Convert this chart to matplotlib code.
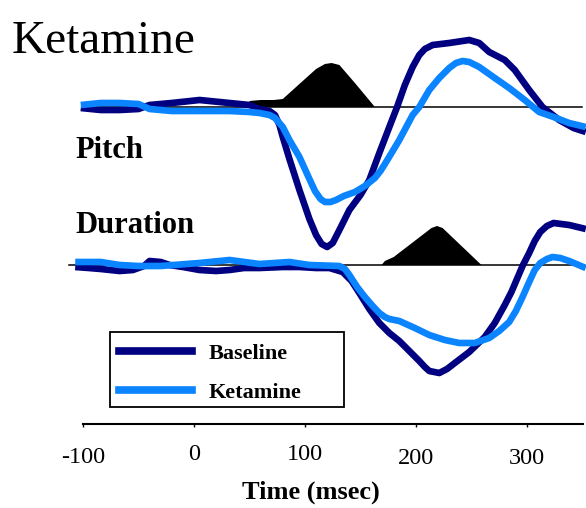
"""
Ketamine mismatch waveforms: pitch and duration deviants, baseline vs ketamine.
Traces are in arbitrary amplitude units (upward positive), time in msec.
"""

import matplotlib
matplotlib.use("Agg")
import matplotlib.pyplot as plt
from matplotlib.lines import Line2D
from matplotlib.patches import Rectangle
from matplotlib.transforms import ScaledTranslation

SERIF = ["Liberation Serif", "DejaVu Serif"]
BASELINE_COLOR = "#000080"
KETAMINE_COLOR = "#0a84ff"

# --- Pitch deviant ---
pitch_base_t = [-102, -84, -67, -50, -40, -20, 5, 32, 50, 59, 68, 73, 77, 80, 86, 95,
                104, 110, 115, 120, 125, 131, 140, 150, 158, 167, 176, 183, 190, 197,
                203, 208, 215, 230, 248, 257, 266, 280, 289, 302, 314, 329, 342, 353]
pitch_base_v = [-1, -3, -3, -2, 2, 4, 7, 4, 2, -2, -4, -8, -18, -30, -52, -83,
                -112, -128, -137, -140, -136, -123, -103, -88, -73, -46, -20, 0, 22, 40,
                52, 58, 62, 64, 67, 64, 55, 47, 37, 17, 0, -13, -21, -25]

pitch_ket_t = [-102, -84, -67, -50, -40, -20, 5, 32, 50, 59, 68, 73, 80, 86, 95, 104,
               109, 114, 118, 123, 128, 135, 145, 154, 163, 168, 172, 178, 185, 197,
               203, 212, 221, 230, 236, 242, 248, 257, 271, 284, 298, 311, 324, 338, 353]
pitch_ket_v = [2, 4, 4, 3, -2, -4, -4, -4, -5, -6, -8, -11, -20, -33, -50, -72,
               -84, -92, -95, -95, -93, -89, -85, -79, -71, -64, -57, -46, -33, -8,
               0, 17, 29, 39, 44, 46, 45, 40, 29, 19, 7, -5, -10, -16, -20]

# stimulus envelope (pitch)
pitch_stim_t = [50, 50, 60, 72, 80, 90, 100, 110, 118, 124, 131, 145, 163]
pitch_stim_v = [0, 6, 7, 7, 8, 18, 28, 38, 43, 44, 42, 24, 0]

# --- Duration deviant ---
dur_base_t = [-107, -95, -84, -67, -55, -45, -40, -30, -22, -10, 5, 20, 32, 45, 59, 80,
              95, 110, 122, 134, 142, 149, 158, 167, 176, 185, 194, 203, 208, 212,
              221, 228, 235, 248, 262, 271, 280, 286, 291, 296, 302, 307, 312, 318,
              324, 338, 353]
dur_base_v = [-2, -3, -4, -6, -5, -1, 4, 3, 0, -2, -5, -6, -5, -3, -3, -2,
              -2, -3, -3, -7, -16, -28, -44, -58, -68, -76, -86, -96, -102, -106,
              -108, -104, -98, -87, -72, -58, -40, -27, -14, -1, 12, 24, 33, 39,
              42, 40, 36]

dur_ket_t = [-107, -84, -67, -50, -30, 5, 32, 59, 86, 104, 131, 136, 140, 147, 154,
             161, 167, 172, 176, 185, 199, 212, 226, 239, 253, 266, 275, 284, 290,
             296, 302, 307, 312, 318, 323, 330, 338, 353]
dur_ket_v = [3, 3, 0, -1, -1, 2, 5, 1, 3, 0, -1, -4, -10, -22, -32,
             -41, -48, -52, -54, -56, -63, -70, -75, -78, -78, -73, -66, -57, -46,
             -32, -17, -5, 2, 6, 8, 7, 4, -3]

# stimulus envelope (duration)
dur_stim_t = [169, 172, 180, 214, 219, 224, 259]
dur_stim_v = [0, 4, 8, 37, 39, 37, 0]

xticks = [-100, 0, 100, 200, 300]
tick_labels = ["-100", "0", "100", "200", "300"]
legend_labels = ["Baseline", "Ketamine"]


def main():
    fig = plt.figure(figsize=(5.86, 5.08), dpi=100)
    # axes spans from the -100 tick to the end of the time axis; y in pixel-like units
    ax = fig.add_axes([83 / 586, 84 / 508, 500 / 586, 424 / 508])
    ax.set_xlim(-100, 350.5)
    ax.set_ylim(0, 424)

    pitch_off = 317
    dur_off = 159

    # zero lines
    ax.plot([-100, 350], [pitch_off, pitch_off], color="black", lw=1.1, clip_on=False, zorder=2)
    ax.plot([-113, 350], [dur_off, dur_off], color="black", lw=1.1, clip_on=False, zorder=2)

    # stimulus envelopes
    ax.fill(pitch_stim_t, [pitch_off + v for v in pitch_stim_v], color="black", lw=0, zorder=1)
    ax.fill(dur_stim_t, [dur_off + v for v in dur_stim_v], color="black", lw=0, zorder=1)

    for t, v, off, c in [
        (pitch_base_t, pitch_base_v, pitch_off, BASELINE_COLOR),
        (pitch_ket_t, pitch_ket_v, pitch_off, KETAMINE_COLOR),
        (dur_base_t, dur_base_v, dur_off, BASELINE_COLOR),
        (dur_ket_t, dur_ket_v, dur_off, KETAMINE_COLOR),
    ]:
        ax.plot(t, [off + y for y in v], color=c, lw=4.8, clip_on=False,
                solid_joinstyle="round", solid_capstyle="butt", zorder=3)

    # axis styling
    for s in ["top", "right", "left"]:
        ax.spines[s].set_visible(False)
    ax.spines["bottom"].set_linewidth(1.5)
    ax.set_yticks([])
    ax.set_xticks(xticks)
    ax.set_xticklabels(tick_labels, family=SERIF, fontsize=17.5)
    ax.tick_params(axis="x", direction="out", length=2.5, width=1, pad=13)
    nudges = [1, -2, -2, 2, 2]  # labels in the original sit at slightly uneven heights
    for lab, dy in zip(ax.get_xticklabels(), nudges):
        lab.set_transform(lab.get_transform() + ScaledTranslation(0, -dy / 100, fig.dpi_scale_trans))

    fig.text(311 / 586, 1 - 492 / 508, "Time (msec)", family=SERIF, fontsize=19,
             fontweight="bold", ha="center", va="center")

    # labels
    fig.text(12 / 586, 1 - 53 / 508, "Ketamine", family=SERIF, fontsize=34, va="baseline")
    fig.text(75 / 586, 1 - 158 / 508, "Pitch", family=SERIF, fontsize=22,
             fontweight="bold", va="baseline")
    fig.text(75 / 586, 1 - 233 / 508, "Duration", family=SERIF, fontsize=22,
             fontweight="bold", va="baseline")

    # legend: entries via fig.legend, box drawn separately (original box is wider)
    handles = [Line2D([], [], color=BASELINE_COLOR, lw=5.5),
               Line2D([], [], color=KETAMINE_COLOR, lw=5.5)]
    fig.legend(handles, legend_labels, loc="upper left",
               bbox_to_anchor=(112 / 586, 1 - 337 / 508), borderaxespad=0,
               prop={"family": SERIF, "weight": "bold", "size": 16},
               handlelength=3.3, handletextpad=0.75, labelspacing=0.8,
               borderpad=0.3, frameon=False)
    fig.patches.append(Rectangle((110 / 586, 1 - 407 / 508), 234 / 586, 75 / 508,
                                 transform=fig.transFigure, fill=False,
                                 edgecolor="black", lw=1.3))

    fig.savefig("out.png", dpi=100)
    plt.close(fig)


if __name__ == "__main__":
    main()
